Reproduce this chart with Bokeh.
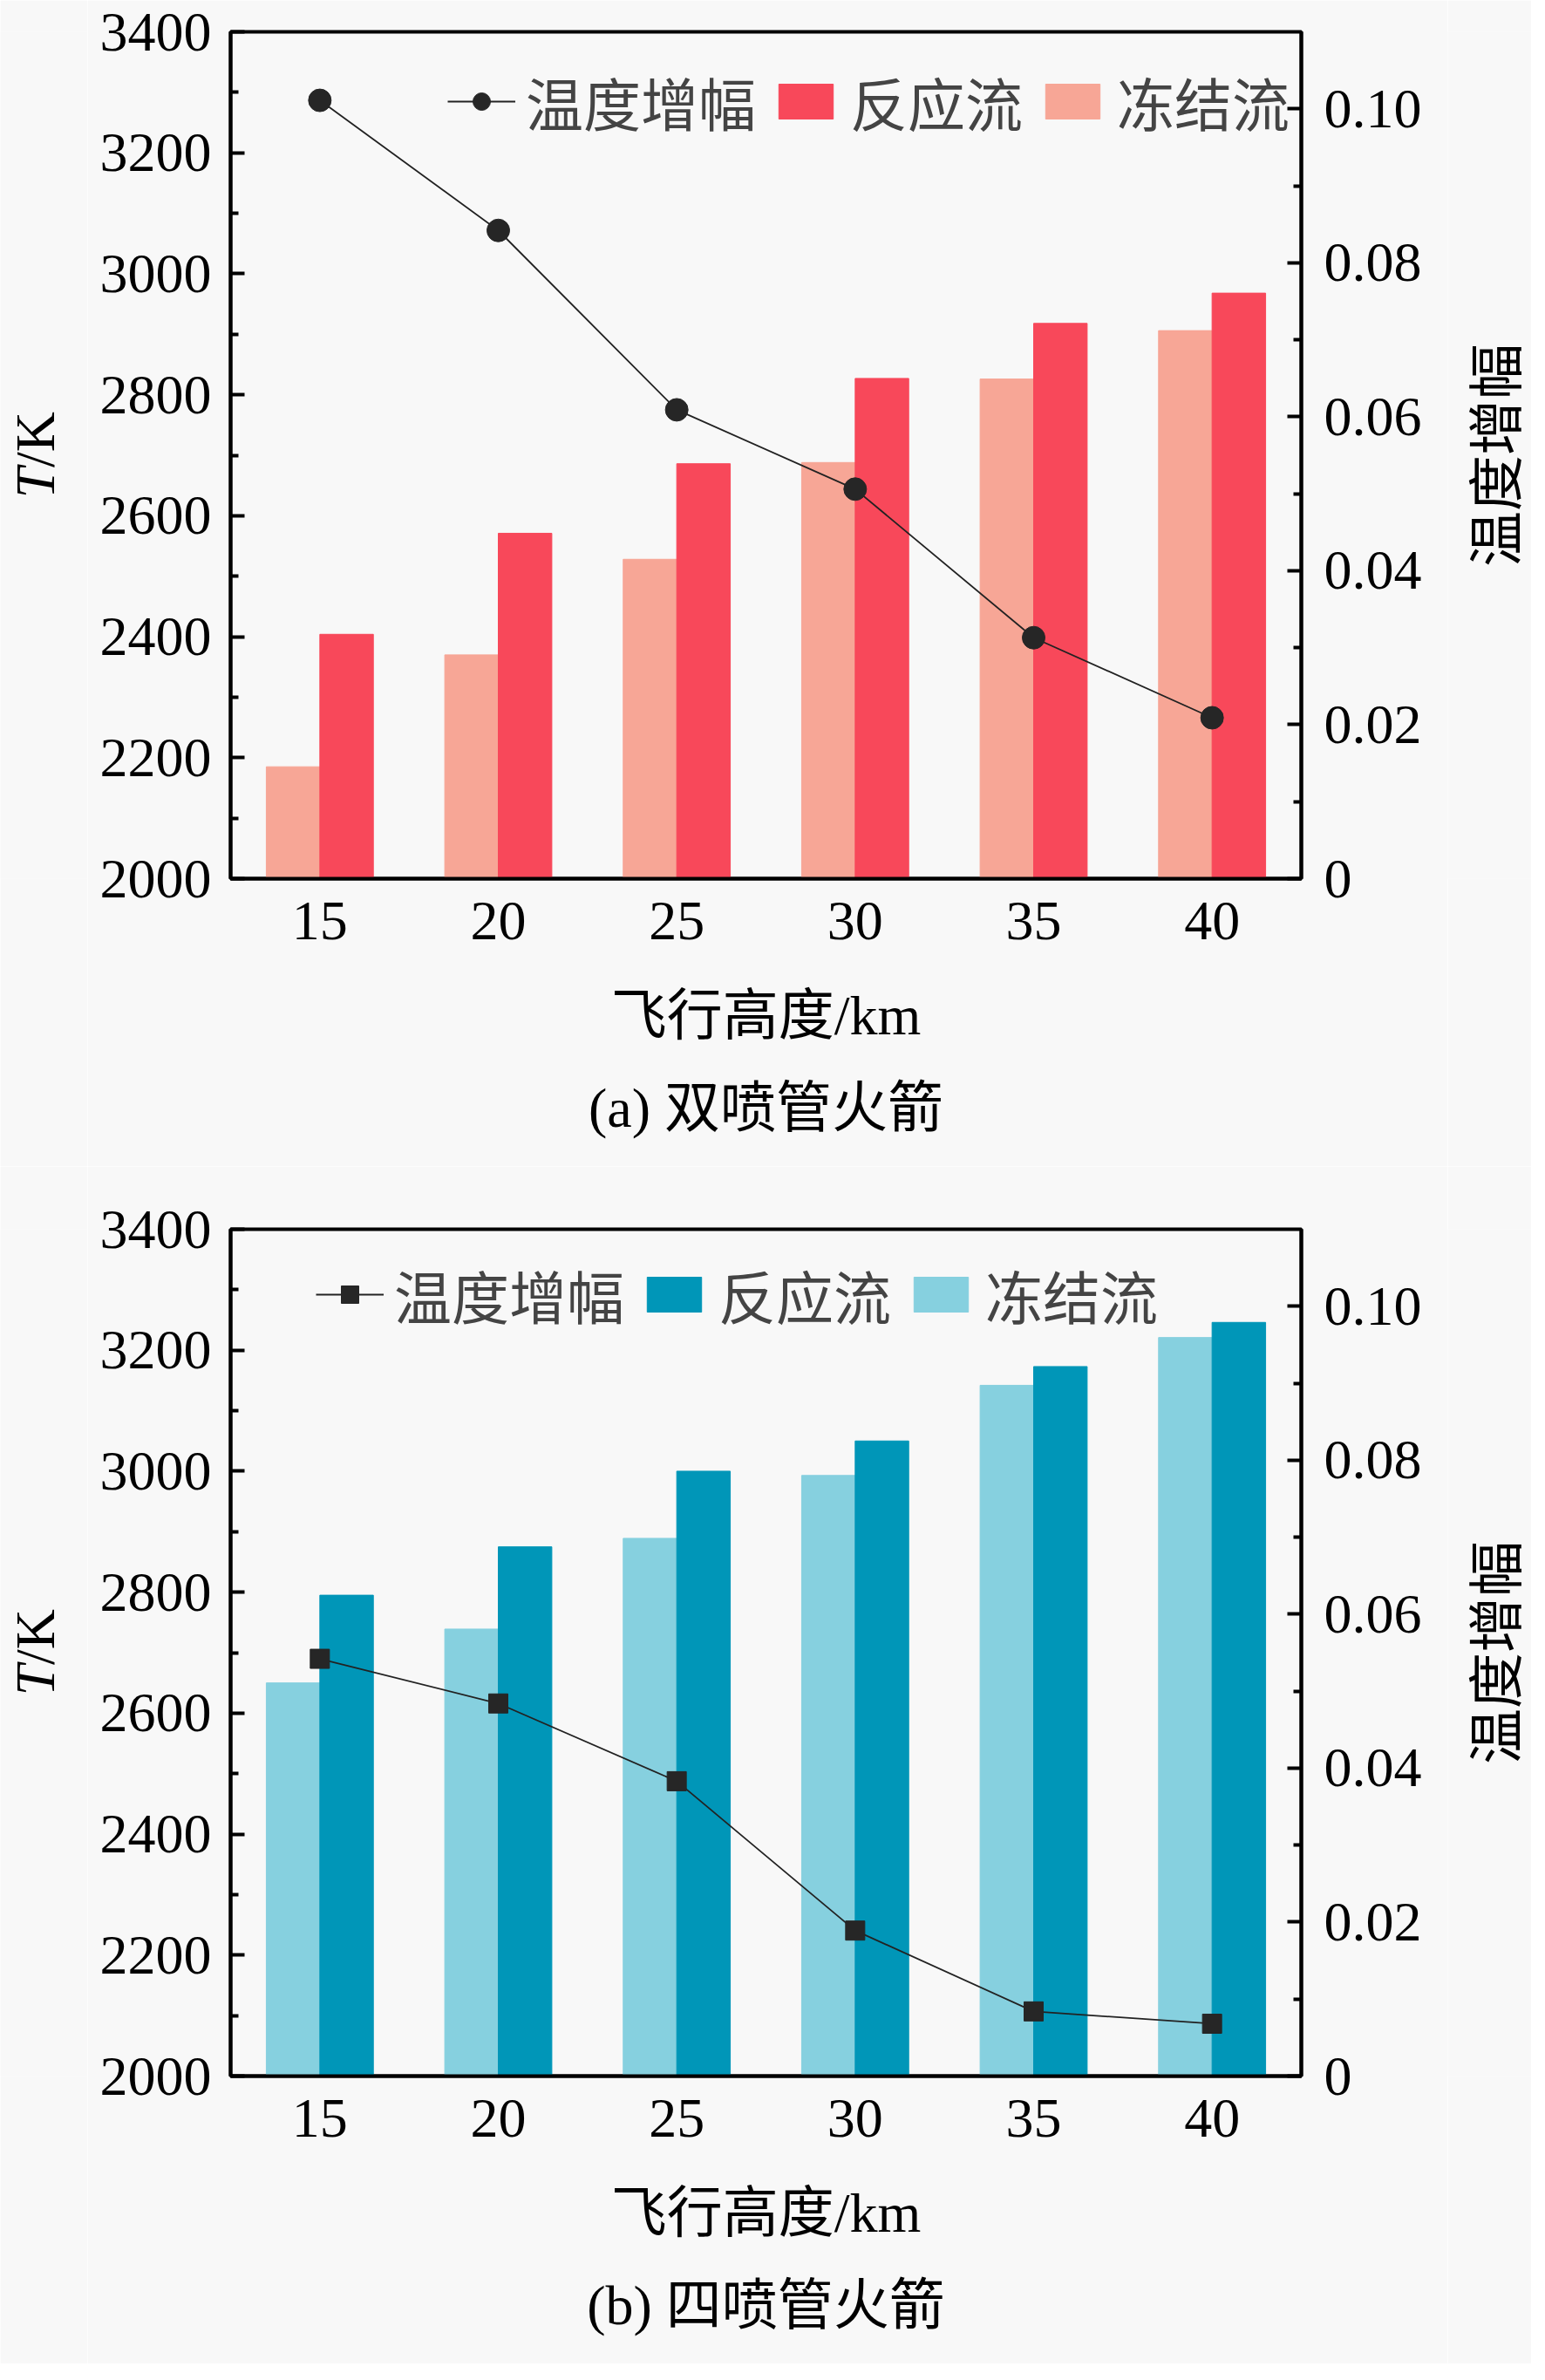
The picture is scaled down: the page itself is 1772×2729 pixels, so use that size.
from math import pi

from bokeh.plotting import figure
from bokeh.layouts import column, row
from bokeh.models import (ColumnDataSource, Range1d, LinearAxis, FixedTicker,
                          NumeralTickFormatter, Legend, LegendItem, Title)
from bokeh.core.properties import value
from bokeh.transform import dodge
from bokeh.embed import file_html
from bokeh.resources import INLINE

# flight altitude, km
altitude = [15, 20, 25, 30, 35, 40]

# (a) twin-nozzle rocket
a_reacting = [2404, 2571, 2686, 2827, 2918, 2968]
a_frozen = [2185, 2370, 2528, 2688, 2826, 2906]
a_rise = [0.1011, 0.0842, 0.0609, 0.0506, 0.0313, 0.0209]

# (b) four-nozzle rocket
b_reacting = [2795, 2875, 3000, 3050, 3173, 3246]
b_frozen = [2650, 2739, 2889, 2993, 3142, 3221]
b_rise = [0.0542, 0.0484, 0.0383, 0.0189, 0.0084, 0.0068]

t_ticks = [2000, 2200, 2400, 2600, 2800, 3000, 3200, 3400]
t_minor = [2100, 2300, 2500, 2700, 2900, 3100, 3300]
rise_ticks = [0, 0.02, 0.04, 0.06, 0.08, 0.10]
rise_minor = [0.01, 0.03, 0.05, 0.07, 0.09]

series_names = ["温度增幅", "反应流", "冻结流"]
titles = ["(a) 双喷管火箭", "(b) 四喷管火箭"]

LATIN = "Liberation Serif"
MIXED = "Liberation Serif, Noto Sans CJK SC"
CJK = "Noto Sans CJK SC"
BG = "#F8F8F8"
FS = "64px"
FW, FH = 1228, 971
LW, RW = 100, 96          # strips holding the rotated y-axis titles
TOTAL_W = 1756


def style_axis(ax):
    ax.axis_line_color = "black"
    ax.axis_line_width = 4
    ax.major_tick_line_width = 4
    ax.minor_tick_line_width = 4
    ax.major_tick_in = 16
    ax.major_tick_out = 0
    ax.minor_tick_in = 9
    ax.minor_tick_out = 0
    ax.major_label_text_font = LATIN
    ax.major_label_text_font_size = FS
    ax.major_label_text_color = "black"
    ax.axis_label_text_font_size = FS
    ax.axis_label_text_color = "black"


def strip(width, y_range, top, bottom):
    f = figure(width=width, frame_height=FH, output_backend="svg", toolbar_location=None,
               x_range=Range1d(0, width), y_range=y_range,
               x_axis_location=None, y_axis_location=None,
               min_border_left=0, min_border_right=0,
               min_border_top=top, min_border_bottom=bottom)
    f.grid.visible = False
    f.outline_line_color = None
    f.background_fill_color = BG
    f.border_fill_color = BG
    return f


def panel(reacting, frozen, rise, title, c_react, c_frozen, marker, msize,
          top, bottom, leg_x, leg_y):
    src = ColumnDataSource(dict(x=altitude, reacting=reacting, frozen=frozen, rise=rise))
    p = figure(frame_width=FW, frame_height=FH, output_backend="svg", toolbar_location=None,
               x_range=Range1d(12.5, 42.5), y_range=Range1d(t_ticks[0], t_ticks[-1]),
               min_border_left=264 - LW, min_border_right=TOTAL_W - 264 - FW - RW,
               min_border_top=top, min_border_bottom=bottom)
    p.background_fill_color = BG
    p.border_fill_color = BG
    p.outline_line_color = "black"
    p.outline_line_width = 4
    p.grid.visible = False
    p.extra_y_ranges = {"rise": Range1d(0, 0.11)}

    fr = p.vbar(x=dodge("x", -0.75), top="frozen", bottom=t_ticks[0], width=1.5, source=src,
                fill_color=c_frozen, line_color=c_frozen)
    rr = p.vbar(x=dodge("x", 0.75), top="reacting", bottom=t_ticks[0], width=1.5, source=src,
                fill_color=c_react, line_color=c_react)
    lr = p.line("x", "rise", source=src, y_range_name="rise", line_color="#222222", line_width=1.8)
    sr = p.scatter("x", "rise", source=src, y_range_name="rise", marker=marker, size=msize,
                   fill_color="#262626", line_color="#262626")

    xa = p.xaxis[0]
    style_axis(xa)
    xa.ticker = FixedTicker(ticks=altitude)
    xa.major_tick_in = 0
    xa.major_label_standoff = 27
    xa.axis_label = "飞行高度/km"
    xa.axis_label_text_font = MIXED
    xa.axis_label_text_font_style = "normal"
    xa.axis_label_standoff = 49

    ya = p.yaxis[0]
    style_axis(ya)
    ya.ticker = FixedTicker(ticks=t_ticks, minor_ticks=t_minor)
    ya.major_label_standoff = 22

    ra = LinearAxis(y_range_name="rise")
    style_axis(ra)
    ra.ticker = FixedTicker(ticks=rise_ticks, minor_ticks=rise_minor)
    ra.formatter = NumeralTickFormatter(format="0.00")
    ra.major_label_overrides = {0: "0"}
    ra.major_label_standoff = 26
    p.add_layout(ra, "right")

    p.add_layout(Title(text=title, align="center", text_font=MIXED, text_font_size=FS,
                       text_font_style="normal", text_color="black", standoff=61), "below")

    legend = Legend(items=[LegendItem(label=series_names[0], renderers=[lr, sr]),
                           LegendItem(label=series_names[1], renderers=[rr]),
                           LegendItem(label=series_names[2], renderers=[fr])],
                    orientation="horizontal", location=(leg_x, leg_y),
                    background_fill_alpha=0, border_line_color=None,
                    label_text_font=CJK, label_text_font_size="66px",
                    glyph_width=78, glyph_height=50, label_height=50,
                    label_standoff=12, spacing=18, padding=0, margin=0)
    p.add_layout(legend)

    # y-axis titles, rotated to read bottom to top, centred on the frame
    mid = (t_ticks[0] + t_ticks[-1]) / 2
    left = strip(LW, p.y_range, top, bottom)
    left.text(x=[40], y=[mid], text=["T"], angle=pi / 2, text_align="right",
              text_baseline="middle", text_font=value(LATIN), text_font_style="italic",
              text_font_size=FS, text_color="black", y_offset=14)
    left.text(x=[40], y=[mid], text=["/K"], angle=pi / 2, text_align="left",
              text_baseline="middle", text_font=value(LATIN), text_font_size=FS,
              text_color="black", y_offset=14)
    right = strip(RW, p.y_range, top, bottom)
    right.text(x=[50], y=[mid], text=[series_names[0]], angle=pi / 2, text_align="center",
               text_baseline="middle", text_font=value(CJK), text_font_size=FS,
               text_color="black")
    return row(left, p, right)


pa = panel(a_reacting, a_frozen, a_rise, titles[0], "#F8485A", "#F7A696", "circle", 26,
           36, 330, 249, 843)
pb = panel(b_reacting, b_frozen, b_rise, titles[1], "#0096B8", "#86D0DF", "square", 22,
           72, 330, 98, 848)

open("out.html", "w").write(file_html(column(pa, pb), INLINE))
